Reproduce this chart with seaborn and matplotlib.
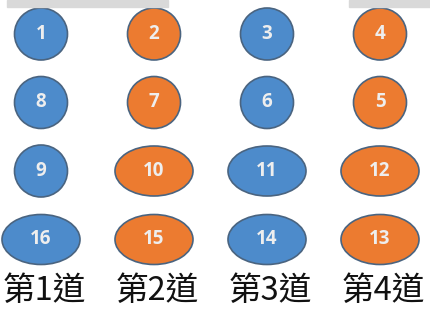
import matplotlib
matplotlib.use("Agg")
import matplotlib.pyplot as plt
from matplotlib.patches import Ellipse, Rectangle
import seaborn as sns

# runner numbers, lane (1-4) and row (1-4) - snake order
numbers = list(range(1, 17))
lanes = [1, 2, 3, 4, 4, 3, 2, 1, 1, 2, 3, 4, 4, 3, 2, 1]
rows = [1, 1, 1, 1, 2, 2, 2, 2, 3, 3, 3, 3, 4, 4, 4, 4]
lane_labels = ["第1道", "第2道", "第3道", "第4道"]

sns.set_theme(style="white")
plt.rcParams['font.family'] = ['Noto Sans CJK TC', 'DejaVu Sans']

blue, orange = "#4d8bcb", "#ec7b30"
edge = "#4a6480"

fig = plt.figure(figsize=(4.3, 3.09), dpi=100)
ax = fig.add_axes([0, 0, 1, 1])
# 113 px per lane, 68.5 px per row
ax.set_xlim(1 - 41 / 113, 1 + 389 / 113)
ax.set_ylim(1 + 275 / 68.5, 1 - 34 / 68.5)
ax.axis("off")

for n, lane, row in zip(numbers, lanes, rows):
    wide = n >= 10
    w = (78 if wide else 53) / 113
    h = (50 if wide else 52) / 68.5
    fc = blue if lane % 2 == 1 else orange
    ax.add_patch(Ellipse((lane, row), w, h, facecolor=fc, edgecolor=edge, lw=1.2))
    ax.text(lane, row, str(n), ha="center", va="center", color="#eeeeee",
            fontsize=13.5, fontweight="bold", family=["Open Sans", "DejaVu Sans"])

for i, lab in enumerate(lane_labels):
    ax.text(i + 1.03, 1 + (291 - 34) / 68.5, lab, ha="center", va="center",
            fontsize=23.5, color="#111111")

# partially visible grey shapes at the top edge
fig.patches.append(Rectangle((7 / 430, 1 - 7 / 309), 161 / 430, 7 / 309,
                             transform=fig.transFigure, color="#d9d9d9"))
fig.patches.append(Rectangle((349 / 430, 1 - 7 / 309), 81 / 430, 7 / 309,
                             transform=fig.transFigure, color="#d9d9d9"))

fig.savefig("out.png", dpi=100)
